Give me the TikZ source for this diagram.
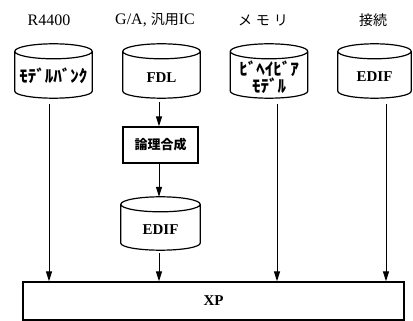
\documentclass[tikz,border=0pt]{standalone}
\usepackage{fontspec}
\setmainfont{Liberation Serif}
\newfontfamily\jp{Noto Sans CJK JP}
\usetikzlibrary{arrows.meta,calc}
\newcommand\drawcyl[1]{%
  \draw[ln] let \p1=(#1.north west), \p2=(#1.south east), \n1={(\x2-\x1)/2} in
    (\x1,\y1-7.5pt) -- (\x1,\y2+7pt)
    arc[start angle=180,end angle=360,x radius=\n1,y radius=7pt]
    -- (\x2,\y1-7.5pt)
    (\x1+\n1,\y1-7.5pt) ellipse [x radius=\n1, y radius=7.5pt];}
\begin{document}
\begin{tikzpicture}[x=1pt,y=1pt,
  every node/.style={inner sep=0pt},
  lbl/.style={font=\fontsize{16}{18}\selectfont},
  ctext/.style={font=\bfseries\fontsize{15}{16}\selectfont, align=center},
  ktext/.style={font=\jp\bfseries\fontsize{17}{13}\selectfont, align=center},
  cylbox/.style={minimum width=77pt, minimum height=54pt},
  ln/.style={line width=1.2pt},
  arr/.style={line width=1pt, -{Triangle[length=10pt,width=6pt]}},
  boxs/.style={draw, line width=1.3pt, minimum width=75pt, minimum height=36pt}]
\useasboundingbox (0,0) rectangle (413,321);
% top labels
\node[lbl] (l1) at (49,301) {R4400};
\node[lbl] (l2) at (155,301) {G/A, {\jp\fontsize{14}{16}\selectfont 汎用}IC};
\node[lbl] (l3) at (263,301) {\jp\fontsize{14}{16}\selectfont メ\kern4pt モ\kern4pt リ};
\node[lbl] (l4) at (373,301) {\jp\fontsize{14}{16}\selectfont 接続};
% cylinders
\node[cylbox] (c1) at (53.5,250) {};
\node[cylbox] (c2) at (161.5,250) {};
\node[cylbox] (c3) at (269,250) {};
\node[cylbox, minimum width=73pt] (c4) at (374.5,250) {};
\node[cylbox, minimum width=79pt, minimum height=53pt] (c5) at (160.5,97.5) {};
\foreach \c in {c1,c2,c3,c4,c5} {\drawcyl{\c}}
\node[ktext] (t1) at ([yshift=-5pt]c1.center) {ﾓﾃﾞﾙﾊﾞﾝｸ};
\node[ctext] (t2) at ([yshift=-7pt]c2.center) {FDL};
\node[ktext] (t3) at ([yshift=-6pt]c3.center) {ﾋﾞﾍｲﾋﾞｱ\\ﾓﾃﾞﾙ};
\node[ctext] (t4) at ([yshift=-6pt]c4.center) {EDIF};
\node[ctext] (t5) at ([yshift=-6pt]c5.center) {EDIF};
% synthesis box
\node[boxs, font=\jp\bfseries\fontsize{13}{15}\selectfont] (b) at (160.5,176) {論理合成};
% XP
\node[draw, line width=1.3pt, minimum width=381pt, minimum height=38pt,
      font=\bfseries\fontsize{15}{16}\selectfont] (xp) at (213.5,20) {XP};
% arrow columns
\coordinate (a1) at (49,0);
\coordinate (a2) at (159,0);
\coordinate (a3) at (277,0);
\coordinate (a4) at (386,0);
\draw[arr, shorten <=6pt] (c1.south -| a1) -- (xp.north -| a1);
\draw[arr, shorten <=4pt] (c2.south -| a2) -- (b.north -| a2);
\draw[arr] (b.south -| a2) -- (c5.north -| a2);
\draw[arr, shorten <=3pt] (c5.south -| a2) -- (xp.north -| a2);
\draw[arr, shorten <=6pt] (c3.south -| a3) -- (xp.north -| a3);
\draw[arr, shorten <=6pt] (c4.south -| a4) -- (xp.north -| a4);
\end{tikzpicture}
\end{document}
